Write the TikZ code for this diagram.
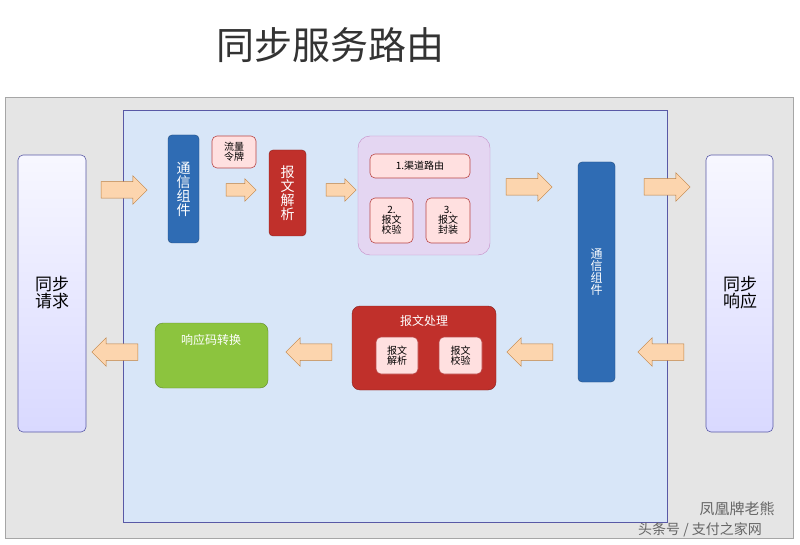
\documentclass[tikz,border=0pt]{standalone}
\usepackage{fontspec}
\setmainfont{Noto Sans CJK SC}
\usetikzlibrary{shapes.arrows}
\colorlet{sideedge}{blue!30!gray}
\colorlet{pinkedge}{red!45!gray}
\definecolor{innerbg}{HTML}{D8E6F8}
\definecolor{compblue}{HTML}{2F6CB4}
\definecolor{dred}{HTML}{C0302B}
\definecolor{lgreen}{HTML}{8CC43E}
\definecolor{purp}{HTML}{E4D6F2}
\definecolor{arrfill}{HTML}{FCD5AE}
\begin{document}
\begin{tikzpicture}[x=1pt,y=-1pt,
  box/.style={rounded corners=5pt,draw=#1,line width=0.6pt},
  blk/.style={single arrow,draw=orange!50!gray,fill=arrfill,minimum height=46pt,inner sep=8pt,single arrow head extend=6pt,line width=0.5pt},
  sblk/.style={blk,minimum height=30pt,inner sep=6pt,single arrow head extend=5pt},
  lbl/.style={font=\fontsize{#1}{#1}\selectfont,align=center,inner sep=0pt}]
\useasboundingbox (0,0) rectangle (800,545);
\fill[white] (0,0) rectangle (800,545);
\node[lbl=38,text=black!80] (title) at (330,45) {同步服务路由};
\draw[fill=gray!20,draw=gray!70] (5,97) rectangle (793,538);
\draw[fill=innerbg,draw=blue!30!gray] (123,110) rectangle (667,522);
% side boxes
\draw[box=sideedge,top color=blue!3,bottom color=blue!15] (18,155) rectangle (86,432);
\node[lbl=17] (req) at (52,293) {同步\\请求};
\draw[box=sideedge,top color=blue!3,bottom color=blue!15] (706,155) rectangle (773,432);
\node[lbl=17] (resp) at (740,293) {同步\\响应};
% comm components
\draw[rounded corners=4pt,fill=compblue,draw=compblue!70!black] (168,135) rectangle (199,243);
\node[lbl=14,text=white] (comm1) at (183.5,189) {通\\信\\组\\件};
\draw[rounded corners=4pt,fill=compblue,draw=compblue!70!black] (578,162) rectangle (615,382);
\node[lbl=12,text=white] (comm2) at (596.5,272) {通\\信\\组\\件};
% token
\draw[box=pinkedge,fill=red!12] (212,136) rectangle (256,168);
\node[lbl=10] (tok) at (234,152) {流量\\令牌};
% parse
\draw[rounded corners=4pt,fill=dred,draw=dred!70!black] (269,150) rectangle (306,236);
\node[lbl=14,text=white] (parse) at (287.5,193) {报\\文\\解\\析};
% purple group
\draw[rounded corners=12pt,fill=purp,draw=violet!45] (358,136) rectangle (490,255);
\draw[box=pinkedge,fill=red!12] (370,154) rectangle (470,178);
\node[lbl=10] (route) at (420,166) {1.渠道路由};
\draw[box=pinkedge,fill=red!12] (370,198) rectangle (413,243);
\node[lbl=10] (check) at (391.5,220.5) {2.\\报文\\校验};
\draw[box=pinkedge,fill=red!12] (426,198) rectangle (470,243);
\node[lbl=10] (pack) at (448,220.5) {3.\\报文\\封装};
% msg processing
\draw[rounded corners=8pt,fill=dred,draw=dred!70!black] (352,306) rectangle (496,390);
\node[lbl=12,text=white] (proc) at (424,321) {报文处理};
\draw[box=pinkedge,fill=red!12] (376,337) rectangle (418,374);
\node[lbl=10] (p1) at (397,355.5) {报文\\解析};
\draw[box=pinkedge,fill=red!12] (439,337) rectangle (482,374);
\node[lbl=10] (p2) at (460.5,355.5) {报文\\校验};
% green
\draw[rounded corners=8pt,fill=lgreen,draw=lgreen!70!black] (155,323) rectangle (268,388);
\node[lbl=12,text=white] (code) at (211,340) {响应码转换};
% arrows
\node[blk] (a1) at (120,190) {};
\node[sblk] (a2) at (238,190) {};
\node[sblk] (a3) at (338,190) {};
\node[blk] (a4) at (525,187) {};
\node[blk] (a5) at (663,187) {};
\node[blk,shape border rotate=180] (b1) at (119,352) {};
\node[blk,shape border rotate=180] (b2) at (313,352) {};
\node[blk,shape border rotate=180] (b3) at (534,352) {};
\node[blk,shape border rotate=180] (b4) at (665,352) {};
% watermark
\node[lbl=15,text=gray!80!black] (wm1) at (737,509) {凤凰牌老熊};
\node[lbl=14,text=gray!80!black] (wm2) at (700,530) {头条号 / 支付之家网};
\end{tikzpicture}
\end{document}
